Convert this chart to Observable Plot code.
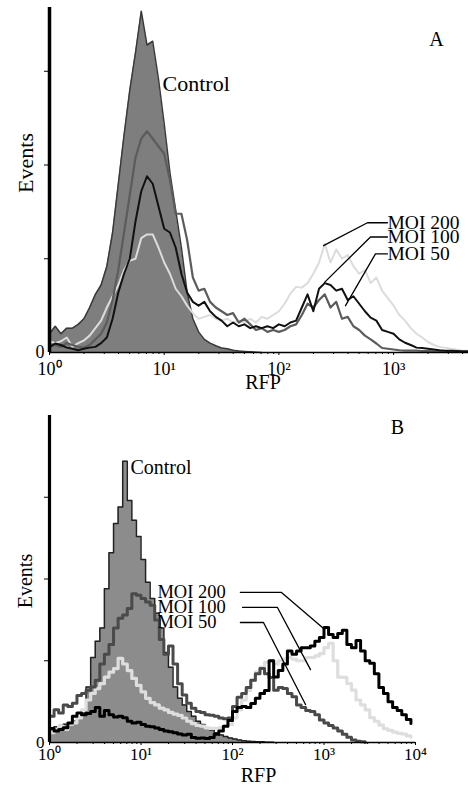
<!DOCTYPE html>
<html><head><meta charset="utf-8">
<script src="https://cdn.jsdelivr.net/npm/d3@7"></script>
<script src="https://cdn.jsdelivr.net/npm/@observablehq/plot@0.6"></script>
<style>
body{margin:0;background:#fff;}
#chart{width:468px;}
#chart svg{display:block;}
</style></head><body><div id="chart"></div>
<script>
// bins are spaced 0.05 decades apart starting at RFP = 10^0
const binStep = 0.05;

// ---------- Panel A (events per bin) ----------
const controlA = [5,7,5,6.5,6.5,7.5,9,12,15.5,18,23,32,45,58,70,80,91,82,83,73,61,48,38,28,16,9,5.5,3.5,2.5,1.8,1.2,1,0.6,0.4,0.3,0.2,0.1,0];
const moi200A = [3,2.5,3,4,1.5,2.5,3.2,4.5,6.5,8.5,
  12,15,18,22,24.5,25,30.5,31.5,31.5,28,
  24,21,17,15,12.5,10.5,9,9.5,10,9,
  8.5,9,8,8.5,8,9,8,9.5,9,10,
  11,13,15.7,17.5,17.3,18.5,21,24,29,24,
  27.5,25,26,23,21,22,18.5,20,16.5,14.5,
  12.5,10,8.5,6.5,5,4,2.8,2,1.5,1.3,
  1,0.8,0.5,0.5];
const moi100A = [1.5,2.4,2,1.3,1,0.6,1,1.3,1.5,2.5,
  4,9,16,21,25,35,43,47,45,39,
  33,32,28,21,16,13.5,12.5,13.5,11,9.5,
  8.5,7,8,7,7.5,6.5,7,6.5,7,6.5,
  7.5,7,8,8.5,12,15.5,11,17,18.5,18,
  16.5,17,14,15,13,11,9.3,8.5,6,5.5,
  5,3.5,2.6,2,1.3,1.2,1,0.8,0.6,0.5,
  0.5,0.4,0.3,0.3];
const moi50A = [1.5,2,1.5,2.5,2,1.5,1.3,2,3.5,5,
  8,14,22,32,42,52,57,59,57,55,
  53,46,37,37,30,20,16.5,17,13.5,12,
  11,10,10.5,8,9,7.5,6,6.5,5.5,6,
  5.5,6,7,7.5,10,13,12,14,15.5,12,
  13.5,9,9.5,7,6,4.5,3.5,2.4,1.2,1,
  0.8,0.6,0.5,0.5,0.5,0.4,0.4,0.3,0.3,0.3,
  0.3,0.3,0.3,0.3];

// ---------- Panel B ----------
const controlB = [4.3,4.8,5.2,5.6,6,6.5,7.5,9,17,26,
  31,35,47,58,67,72,86,74,68,63,
  56,49,44,39.5,35,27.5,23,17,13.5,11.5,
  9.5,8,6.5,5.5,4.5,3.8,3,2.3,1.8,1.4,
  1.1,0.8,0.5,0.4,0.3,0.2,0.2,0.1,0.1,0];
const moi50B = [8,10,9,11.5,11,12,14.4,15,16,17,
  19,24,27,30,35,38,39,41,45.5,45,
  44,43,42,37.5,31.5,27,29.5,24,18,14.5,
  12,10.5,9.5,9.2,8.5,8.3,8,7.5,7.3,7.5,
  11,13.8,15,16.8,19,21,22.6,21,19.9,16,
  16.8,16.5,15,14,11.5,10.7,9.8,9.5,8.5,6.9,
  6,5.2,4.4,3.5,2.5,1.6,0.8,0.4,0.2,0];
const moi100B = [3,4,5,4,5.5,6,7.5,10,13,15,
  16.5,18,20,21.5,22.6,25.7,24,22,19.6,17.5,
  15.5,13.5,12.2,11.5,10.5,10,9.2,8.7,8.3,7.5,
  6.5,5.8,5.2,5,4.5,4.3,4.3,4.5,5,5.5,
  7.5,10,13,15.9,19,21.5,23,24.5,25,24,
  25,25.5,26,25.5,25,25,26,26,26.5,27.2,
  29,30.3,25,20,19.9,18,16,13,11.5,10,
  7.6,6.5,5.3,4.2,3.7,3.2,2.8,2.6,2,1.6];
const moi200B = [4.3,3.5,4,4.5,6,8,9,8.5,8.9,9.5,
  10.7,8,9.8,8.5,7.8,8,7.6,6.5,6,6.2,
  5.5,5,4.8,4.4,4,3.5,3.3,3,2.6,2.3,
  2.5,1.5,1.3,1.4,1.2,1.5,2.5,3.5,5,6.7,
  9.5,10.7,11,10.7,11.9,13.5,15,15.9,25,20,
  22,24,28,27,28,29,29,29.5,31,32.1,
  35.2,33,32.1,33.3,34.3,30,29,31.2,28,25,
  24.2,21,16.8,15,12.5,10.7,9.8,8.5,7,5.8];

// ---------- axes ----------
const majorTicksA = [1, 10, 100, 1000];
const majorTicksB = [1, 10, 100, 1000, 10000];
const tickLabels = {1: "10\u2070", 10: "10\u00B9", 100: "10\u00B2", 1000: "10\u00B3", 10000: "10\u2074"};
const minorTicksA = [2,3,4,5,6,7,8,9,20,30,40,50,60,70,80,90,200,300,400,500,600,700,800,900,2000,3000,4000];
const minorTicksB = [2,3,4,5,6,7,8,9,20,30,40,50,60,70,80,90,200,300,400,500,600,700,800,900,2000,3000,4000,5000,6000,7000,8000,9000];
const yTicks = [25, 50, 75];
const xTitle = "RFP";
const yTitle = "Events";

// ---------- annotations (data coordinates) ----------
const seriesLabels = ["MOI 200", "MOI 100", "MOI 50"];
const labelYA = [34.6, 30.8, 26.3];
const labelXA = 885;
const leadersA = [
  [[885, 34.6], [592, 34.6], [245, 28.5]],
  [[885, 30.8], [629, 30.8], [250, 18.7]],
  [[885, 26.3], [695, 26.3], [381, 12.5]]
];
const controlLabelA = {x: 9.67, y: 71.7};
const panelLabelA = {x: 2366, y: 83.5, t: "A"};

const labelYB = [45.9, 41.3, 36.7];
const labelXB = 15.1;
const leadersB = [
  [[122, 45.9], [343, 45.9], [1012, 34.6]],
  [[129, 41.3], [310, 41.3], [712, 22.3]],
  [[122, 36.7], [218, 36.7], [628, 11.6]]
];
const controlLabelB = {x: 7.67, y: 84.1};
const panelLabelB = {x: 6360, y: 96.3, t: "B"};

const rows = values => values.map((v, i) => ({x: Math.pow(10, i * binStep), y: v}));
const fontFam = "'Liberation Serif','Times New Roman',Times,serif";

function leaderMarks(leaders, xs, ys, fs) {
  const marks = leaders.map(pts => Plot.line(pts, {x: d => d[0], y: d => d[1], stroke: "#000", strokeWidth: 1.3}));
  marks.push(Plot.text(seriesLabels, {x: () => xs, y: (d, i) => ys[i], text: d => d, textAnchor: "start", lineAnchor: "middle", fontSize: fs, fill: "#000"}));
  return marks;
}

const plotA = Plot.plot({
  width: 468, height: 390,
  marginLeft: 49, marginRight: 0, marginTop: 7, marginBottom: 38,
  x: {type: "log", domain: [1, 4500]},
  y: {domain: [0, 92]},
  style: {fontFamily: fontFam, fontSize: "18px", color: "#000", background: "transparent", overflow: "visible"},
  marks: [
    Plot.areaY(rows(controlA), {x: "x", y: "y", fill: "#7e7e7e"}),
    Plot.lineY(rows(controlA), {x: "x", y: "y", stroke: "#3a3a3a", strokeWidth: 1.5}),
    Plot.lineY(rows(moi200A), {x: "x", y: "y", stroke: "#dcdcdc", strokeWidth: 2}),
    Plot.lineY(rows(moi50A), {x: "x", y: "y", stroke: "#5c5c5c", strokeWidth: 2.2}),
    Plot.lineY(rows(moi100A), {x: "x", y: "y", stroke: "#111", strokeWidth: 2}),
    Plot.ruleY([0], {stroke: "#000", strokeWidth: 1.5}),
    Plot.ruleX([1], {stroke: "#000", strokeWidth: 3.5}),
    Plot.axisX({ticks: majorTicksA, tickFormat: d => tickLabels[d], tickSize: 3, tickPadding: 7, fontSize: 18, label: null}),
    Plot.axisX({ticks: minorTicksA, tickFormat: () => "", tickSize: 2, label: null}),
    Plot.axisY({ticks: yTicks, tickFormat: () => "", tickSize: 5, label: null}),
    Plot.axisY({ticks: [0], tickSize: 0, tickPadding: 5, fontSize: 18, label: null}),
    Plot.text([xTitle], {frameAnchor: "bottom", dx: 4, dy: 30, lineAnchor: "middle", textAnchor: "middle", fontSize: 20, fill: "#000"}),
    Plot.text([yTitle], {frameAnchor: "left", rotate: -90, dx: -24, dy: -17, lineAnchor: "middle", textAnchor: "middle", fontSize: 22, fill: "#000"}),
    Plot.text([controlLabelA], {x: "x", y: "y", text: () => "Control", textAnchor: "start", lineAnchor: "middle", fontSize: 22, fill: "#000"}),
    Plot.text([panelLabelA], {x: "x", y: "y", text: "t", textAnchor: "middle", lineAnchor: "middle", fontSize: 20, fill: "#000"}),
    ...leaderMarks(leadersA, labelXA, labelYA, 19.5)
  ]
});

const plotB = Plot.plot({
  width: 468, height: 398,
  marginLeft: 49, marginRight: 53, marginTop: 25, marginBottom: 46,
  x: {type: "log", domain: [1, 10000]},
  y: {domain: [0, 100]},
  style: {fontFamily: fontFam, fontSize: "17px", color: "#000", background: "transparent", overflow: "visible"},
  marks: [
    Plot.areaY(rows(controlB), {x: "x", y: "y", fill: "#8c8c8c", curve: "step-after"}),
    Plot.lineY(rows(controlB), {x: "x", y: "y", stroke: "#222", strokeWidth: 1.5, curve: "step-after"}),
    Plot.lineY(rows(moi100B), {x: "x", y: "y", stroke: "#dedede", strokeWidth: 3.2, curve: "step-after"}),
    Plot.lineY(rows(moi50B), {x: "x", y: "y", stroke: "#4a4a4a", strokeWidth: 3, curve: "step-after"}),
    Plot.lineY(rows(moi200B), {x: "x", y: "y", stroke: "#000", strokeWidth: 3, curve: "step-after"}),
    Plot.ruleY([0], {stroke: "#000", strokeWidth: 1.5}),
    Plot.ruleX([1], {stroke: "#000", strokeWidth: 3.2}),
    Plot.axisX({ticks: majorTicksB, tickFormat: d => tickLabels[d], tickSize: 3, tickPadding: 2, fontSize: 17, label: null}),
    Plot.axisX({ticks: minorTicksB, tickFormat: () => "", tickSize: 2, label: null}),
    Plot.axisY({ticks: yTicks, tickFormat: () => "", tickSize: 5, label: null}),
    Plot.axisY({ticks: [0], tickSize: 0, tickPadding: 5, fontSize: 17, label: null}),
    Plot.text([xTitle], {frameAnchor: "bottom", dx: 26, dy: 33, lineAnchor: "middle", textAnchor: "middle", fontSize: 20, fill: "#000"}),
    Plot.text([yTitle], {frameAnchor: "left", rotate: -90, dx: -24, dy: 2, lineAnchor: "middle", textAnchor: "middle", fontSize: 20, fill: "#000"}),
    Plot.text([controlLabelB], {x: "x", y: "y", text: () => "Control", textAnchor: "start", lineAnchor: "middle", fontSize: 20, fill: "#000"}),
    Plot.text([panelLabelB], {x: "x", y: "y", text: "t", textAnchor: "middle", lineAnchor: "middle", fontSize: 20, fill: "#000"}),
    ...leaderMarks(leadersB, labelXB, labelYB, 18.5)
  ]
});

const chart = document.getElementById("chart");
chart.appendChild(plotA);
chart.appendChild(plotB);
</script></body></html>
